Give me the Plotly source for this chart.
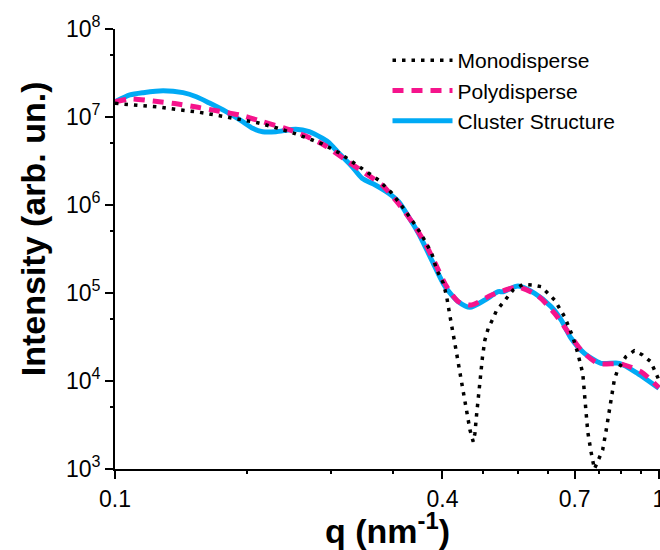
import plotly.graph_objects as go

# ---- data ----
q_mono = [0.1000, 0.1036, 0.1127, 0.1217, 0.1324, 0.1431, 0.1556, 0.1681, 0.1829, 0.1976,
          0.2135, 0.2306, 0.2405, 0.2580, 0.2749, 0.2928, 0.3053, 0.3229, 0.3392, 0.3564,
          0.3664, 0.3822, 0.3904, 0.4015, 0.4072, 0.4131, 0.4188, 0.4247, 0.4309, 0.4368,
          0.4430, 0.4494, 0.4557, 0.4589, 0.4621, 0.4654, 0.4699, 0.4739, 0.4787, 0.4855,
          0.4957, 0.5027, 0.5170, 0.5393, 0.5625, 0.5868, 0.6077, 0.6252, 0.6430, 0.6707,
          0.6946, 0.7094, 0.7244, 0.7296, 0.7347, 0.7399, 0.7502, 0.7610, 0.7749, 0.7880,
          0.7990, 0.8106, 0.8185, 0.8279, 0.8396, 0.8694, 0.9007, 0.9328, 0.9661, 1.0000]
i_mono = [1.43e7, 1.405e7, 1.344e7, 1.289e7, 1.201e7, 1.131e7, 1.035e7, 9.42e6, 8.61e6, 7.56e6,
          6.53e6, 5.48e6, 4.94e6, 3.93e6, 3.02e6, 2.29e6, 1.92e6, 1.36e6, 9.17e5, 5.93e5,
          4.56e5, 2.83e5, 1.83e5, 1.29e5, 9.08e4, 5.38e4, 3.48e4, 2.06e4, 1.223e4, 7.25e3,
          4.30e3, 2.77e3, 2.04e3, 2.55e3, 4.11e3, 6.63e3, 1.119e4, 1.889e4, 2.92e4, 3.97e4,
          5.16e4, 6.30e4, 7.76e4, 1.082e5, 1.256e5, 1.233e5, 1.18e5, 9.92e4, 8.33e4, 5.38e4,
          3.18e4, 2.06e4, 1.223e4, 7.25e3, 4.30e3, 2.65e3, 1.57e3, 1.00e3, 1.29e3, 1.64e3,
          2.65e3, 4.48e3, 7.25e3, 1.027e4, 1.334e4, 1.889e4, 2.21e4, 1.976e4, 1.657e4, 1.027e4]

q_poly = [0.1000, 0.1065, 0.1175, 0.1288, 0.1420, 0.1556, 0.1705, 0.1868, 0.2062, 0.2258,
          0.2440, 0.2655, 0.2888, 0.3096, 0.3298, 0.3513, 0.3717, 0.3877, 0.4072, 0.4278,
          0.4524, 0.4922, 0.5508, 0.5993, 0.6430, 0.6802, 0.7193, 0.7717, 0.8513, 0.9262,
          1.0000]
i_poly = [1.49e7, 1.60e7, 1.52e7, 1.42e7, 1.289e7, 1.161e7, 1.045e7, 8.84e6, 7.36e6, 5.97e6,
          4.68e6, 3.25e6, 2.29e6, 1.69e6, 1.09e6, 6.46e5, 3.67e5, 2.18e5, 1.18e5, 7.96e4,
          7.30e4, 9.49e4, 1.161e5, 9.25e4, 5.88e4, 3.63e4, 2.25e4, 1.589e4, 1.561e4, 1.276e4,
          8.40e3]

q_clus = [0.1000, 0.1065, 0.1127, 0.1226, 0.1334, 0.1411, 0.1492, 0.1601, 0.1717, 0.1791,
          0.1868, 0.1976, 0.2150, 0.2275, 0.2405, 0.2474, 0.2580, 0.2730, 0.2846, 0.3010,
          0.3185, 0.3322, 0.3465, 0.3614, 0.3822, 0.4045, 0.4278, 0.4494, 0.4787, 0.5063,
          0.5170, 0.5508, 0.5910, 0.6339, 0.6611, 0.6896, 0.7296, 0.7824, 0.8456, 0.9135,
          1.0000]
i_clus = [1.49e7, 1.78e7, 1.89e7, 1.99e7, 1.89e7, 1.70e7, 1.44e7, 1.149e7, 8.84e6, 7.44e6,
          6.81e6, 6.81e6, 7.25e6, 6.81e6, 5.73e6, 5.10e6, 3.87e6, 2.72e6, 2.01e6, 1.69e6,
          1.36e6, 1.09e6, 7.36e5, 4.77e5, 2.37e5, 1.18e5, 7.96e4, 6.88e4, 8.33e4, 1.035e5,
          1.035e5, 1.20e5, 9.92e4, 6.99e4, 4.94e4, 3.06e4, 2.06e4, 1.589e4, 1.589e4, 1.223e4,
          8.26e3]

series_names = ["Monodisperse", "Polydisperse", "Cluster Structure"]
x_tickvals = [0.1, 0.4, 0.7, 1.0]
x_ticktext = ["0.1", "0.4", "0.7", "1"]
x_minor = [0.175, 0.25, 0.325, 0.475, 0.55, 0.625, 0.775, 0.85, 0.925]
y_tickvals = [1e3, 1e4, 1e5, 1e6, 1e7, 1e8]
y_ticktext = ["10<sup>3</sup>", "10<sup>4</sup>", "10<sup>5</sup>",
              "10<sup>6</sup>", "10<sup>7</sup>", "10<sup>8</sup>"]
y_minor = [5e3, 5e4, 5e5, 5e6, 5e7]
y_title = "Intensity (arb. un.)"
x_title = "q (nm<sup>-1</sup>)"

FONT = "Arial, 'Liberation Sans', sans-serif"
X_RANGE = [-1, 0.002]
Y_RANGE = [3, 8]

fig = go.Figure()
fig.add_trace(go.Scatter(x=q_clus, y=i_clus, mode="lines", name=series_names[2],
                         line=dict(color="#00AAF5", width=5, shape="spline", smoothing=0.7)))
fig.add_trace(go.Scatter(x=q_poly, y=i_poly, mode="lines", name=series_names[1],
                         line=dict(color="#F5148C", width=5, dash="11px,8px",
                                   shape="spline", smoothing=0.7)))
fig.add_trace(go.Scatter(x=q_mono, y=i_mono, mode="lines", name=series_names[0],
                         line=dict(color="black", width=3.5, dash="3.5px,6px")))

common = dict(showgrid=False, zeroline=False, automargin=False)

fig.update_layout(
    width=660, height=550,
    margin=dict(l=115, r=0, t=29, b=81),
    paper_bgcolor="white", plot_bgcolor="white",
    font=dict(family=FONT, color="black", size=23),
    showlegend=True,
    legend=dict(x=0.50, y=0.975, xanchor="left", yanchor="top",
                bgcolor="rgba(0,0,0,0)", font=dict(size=21, color="black"),
                traceorder="reversed", itemwidth=60, tracegroupgap=0),
    xaxis=dict(type="log", range=X_RANGE, **common,
               showline=True, linecolor="black", linewidth=1.8,
               ticks="outside", ticklen=8, tickwidth=1.5, tickcolor="black",
               tickmode="array", tickvals=x_tickvals, ticktext=x_ticktext,
               tickfont=dict(size=23), ticklabeloverflow="allow",
               title=dict(text=x_title, standoff=11,
                          font=dict(size=34, weight="bold"))),
    yaxis=dict(type="log", range=Y_RANGE, **common,
               showline=True, linecolor="black", linewidth=1.8,
               ticks="outside", ticklen=8, tickwidth=1.5, tickcolor="black",
               tickmode="array", tickvals=y_tickvals, ticktext=y_ticktext,
               tickfont=dict(size=23)),
    # overlay axes carrying only the short minor ticks
    xaxis2=dict(type="log", range=X_RANGE, overlaying="x", side="bottom", anchor="y",
                **common, showline=False, ticks="outside", ticklen=4, tickwidth=1.5,
                tickcolor="black", tickmode="array", tickvals=x_minor,
                showticklabels=False),
    yaxis2=dict(type="log", range=Y_RANGE, overlaying="y", side="left", anchor="x",
                **common, showline=False, ticks="outside", ticklen=4, tickwidth=1.5,
                tickcolor="black", tickmode="array", tickvals=y_minor,
                showticklabels=False),
    annotations=[dict(text=y_title, textangle=-90, xref="paper", yref="paper",
                      x=0, y=0.545, xshift=-82, xanchor="center", yanchor="middle",
                      showarrow=False, font=dict(size=34, weight="bold", color="black"))],
)
# invisible helper trace so the overlay axes are drawn
fig.add_trace(go.Scatter(x=[q_mono[0]], y=[i_mono[0]], xaxis="x2", yaxis="y2",
                         mode="lines", showlegend=False, hoverinfo="skip",
                         line=dict(width=0)))

fig.write_html("out.html")
